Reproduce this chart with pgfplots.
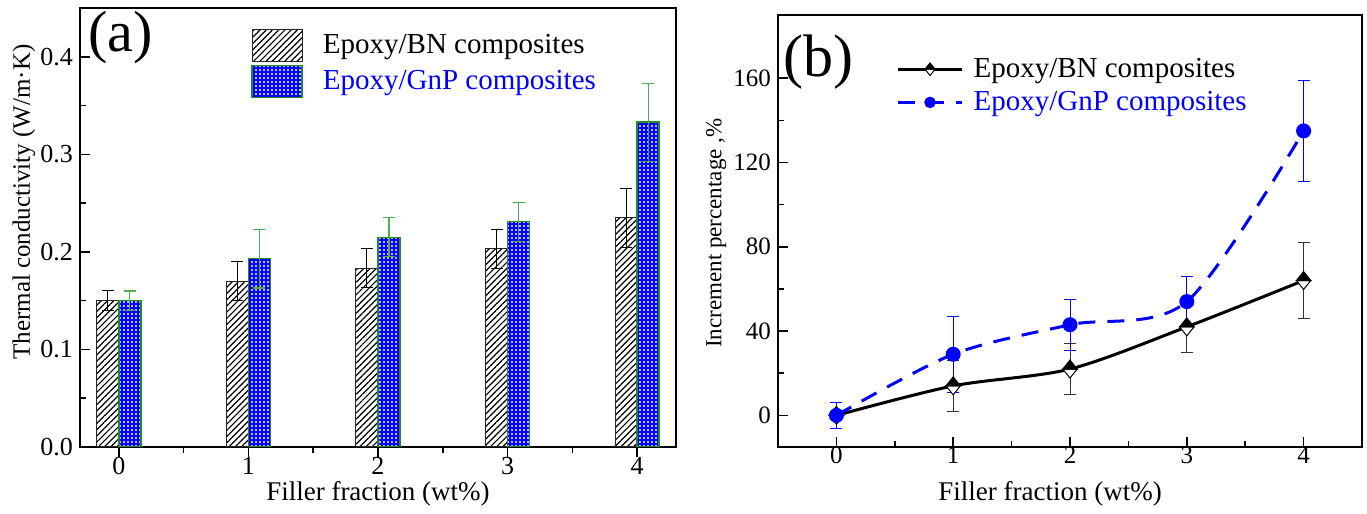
\documentclass[border=0pt]{standalone}
\usepackage{pgfplots}
\pgfplotsset{compat=1.18}
\usepackage{fontspec}
\setmainfont{Liberation Serif}
\usetikzlibrary{patterns,patterns.meta}

\definecolor{gnpedge}{RGB}{30,140,30}
\definecolor{gnperr}{RGB}{80,170,80}

% diamond, top half black, bottom half white
\pgfdeclareplotmark{halfdiamond}{%
  \pgfpathmoveto{\pgfqpoint{-0.8\pgfplotmarksize}{0pt}}%
  \pgfpathlineto{\pgfqpoint{0pt}{-\pgfplotmarksize}}%
  \pgfpathlineto{\pgfqpoint{0.8\pgfplotmarksize}{0pt}}%
  \pgfpathclose
  \pgfsetfillcolor{white}%
  \pgfusepathqfillstroke
  \pgfpathmoveto{\pgfqpoint{-0.8\pgfplotmarksize}{0pt}}%
  \pgfpathlineto{\pgfqpoint{0pt}{\pgfplotmarksize}}%
  \pgfpathlineto{\pgfqpoint{0.8\pgfplotmarksize}{0pt}}%
  \pgfpathclose
  \pgfsetfillcolor{black}%
  \pgfusepathqfillstroke
}

\pgfplotsset{
  panel/.style={
    scale only axis, anchor=south west,
    tick pos=left, tick align=inside,
    major tick length=5pt, minor tick length=3pt,
    axis line style={line width=1pt},
    major tick style={line width=0.8pt, black},
    minor tick style={line width=0.8pt, black},
    minor x tick num=1, minor y tick num=1,
    xticklabel={\pgfmathprintnumber{\tick}},
    yticklabel={\pgfmathprintnumber{\tick}},
    /pgf/number format/assume math mode=true,
    ticklabel style={font=\fontsize{13}{15}\selectfont},
    xticklabel style={yshift=3.5pt},
    label style={font=\fontsize{13.5}{16}\selectfont},
    legend cell align=left,
  },
  barlegend/.style={legend image code/.code={%
    \draw[##1] (0pt,-8pt) rectangle (25pt,8pt); \path (34pt,0pt);}},
  linelegend/.style={legend image code/.code={%
    \draw[mark repeat=2,mark phase=2,##1,every mark/.append style={scale=0.7}]
      plot coordinates {(0pt,0pt)(16pt,0pt)(32pt,0pt)}; \path (36pt,0pt);}},
}

\begin{document}
\begin{tikzpicture}
\useasboundingbox (0,0) rectangle (683.5pt,257pt);

% ---------- (a) ----------
\begin{axis}[panel,
  at={(40pt,33.5pt)}, width=298pt, height=219.5pt,
  ybar, bar width=0.17,
  xmin=-0.3, xmax=4.3, ymin=0, ymax=0.45,
  xtick={0,1,2,3,4},
  ytick={0,0.1,0.2,0.3,0.4},
  yticklabel style={/pgf/number format/.cd, fixed, fixed zerofill, precision=1},
  xlabel={Filler fraction (wt\%)},
  ylabel={Thermal conductivity (W/m·K)},
  xlabel style={at={(axis description cs:0.5,0)}, anchor=center, yshift=-23.5pt},
  ylabel style={at={(axis description cs:-0.094,0.558)}, anchor=center, font=\fontsize{12.5}{15}\selectfont},
  legend style={at={(0.277,0.962)}, anchor=north west, draw=none, fill=none,
    font=\fontsize{14.5}{16}\selectfont, row sep=1.5pt,
    nodes={inner sep=1pt}},
]
\addplot[bar shift=-0.085, draw=black!85, line width=0.5pt, fill=white,
  postaction={pattern={Lines[angle=45,distance=2.2pt,line width=0.6pt]}},
  barlegend,
  error bars/.cd, y dir=both, y explicit,
  error bar style={black, line width=0.5pt},
  error mark options={rotate=90, mark size=3pt, black, line width=0.5pt}]
coordinates {(0,0.150) +- (0,0.010) (1,0.170) +- (0,0.020) (2,0.183) +- (0,0.020)
             (3,0.203) +- (0,0.020) (4,0.235) +- (0,0.030)};
\addlegendentry{Epoxy/BN composites}

\addplot[bar shift=0.085, draw=gnpedge, line width=0.7pt, fill=blue,
  postaction={pattern={Dots[angle=0,distance=2pt,radius=0.6pt]}, pattern color=white},
  barlegend,
  error bars/.cd, y dir=both, y explicit,
  error bar style={gnperr, line width=0.6pt},
  error mark options={rotate=90, mark size=3pt, gnperr, line width=0.6pt}]
coordinates {(0,0.150) +- (0,0.010) (1,0.193) +- (0,0.030) (2,0.215) +- (0,0.020)
             (3,0.231) +- (0,0.020) (4,0.333) +- (0,0.040)};
\addlegendentry{\textcolor{blue}{Epoxy/GnP composites}}

\node[anchor=west, inner sep=0pt, font=\fontsize{29}{32}\selectfont]
  at (axis description cs:0.013,0.932) {(a)};
\end{axis}

% ---------- (b) ----------
\begin{axis}[panel,
  at={(389pt,33.5pt)}, width=292pt, height=216pt,
  xmin=-0.5, xmax=4.5, ymin=-15, ymax=190,
  xtick={0,1,2,3,4},
  ytick={0,40,80,120,160},
  ticklabel style={font=\fontsize{12.5}{15}\selectfont},
  xlabel={Filler fraction (wt\%)},
  ylabel={Increment percentage ,\%},
  xlabel style={at={(axis description cs:0.466,0)}, anchor=center, yshift=-23.5pt},
  ylabel style={at={(axis description cs:-0.106,0.495)}, anchor=center, font=\fontsize{11.5}{14}\selectfont},
  legend style={at={(0.192,0.915)}, anchor=north west, draw=none, fill=none,
    font=\fontsize{14.5}{16}\selectfont, row sep=3.5pt,
    nodes={inner sep=1pt}},
  linelegend,
]
\addplot[black, line width=1.5pt, smooth, mark=halfdiamond, mark size=4.5pt,
  mark options={solid, line width=0.5pt, draw=black},
  error bars/.cd, y dir=both, y explicit,
  error bar style={black!80, line width=0.5pt, solid},
  error mark options={rotate=90, mark size=3pt, black!80, line width=0.5pt}]
coordinates {(0,0) +- (0,6) (1,14) +- (0,12) (2,22) +- (0,12)
             (3,42) +- (0,12) (4,64) +- (0,18)};
\addlegendentry{Epoxy/BN composites}

\addplot[blue, line width=1.5pt, smooth, dash pattern=on 8.5pt off 6pt,
  mark=*, mark size=3pt, mark options={solid, fill=blue},
  error bars/.cd, y dir=both, y explicit,
  error bar style={blue, line width=0.5pt, solid},
  error mark options={rotate=90, mark size=3pt, blue, line width=0.5pt}]
coordinates {(0,0) +- (0,6) (1,29) +- (0,18) (2,43) +- (0,12)
             (3,54) +- (0,12) (4,135) +- (0,24)};
\addlegendentry{\textcolor{blue}{Epoxy/GnP composites}}

\node[anchor=west, inner sep=0pt, font=\fontsize{30}{33}\selectfont]
  at (axis description cs:0.009,0.891) {(b)};
\end{axis}
\end{tikzpicture}
\end{document}
